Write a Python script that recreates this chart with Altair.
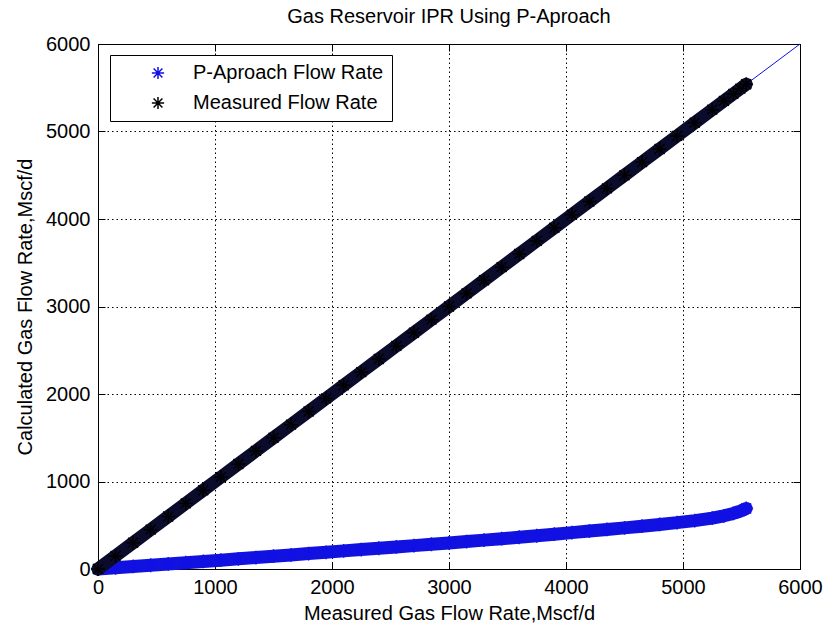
import altair as alt
import pandas as pd

# ---------------- data ----------------
axis_ticks = [0, 1000, 2000, 3000, 4000, 5000, 6000]

q_measured = [0, 150, 300, 450, 600, 750, 900, 1050, 1200, 1350, 1500, 1650,
              1800, 1950, 2100, 2250, 2400, 2550, 2700, 2850, 3000, 3150, 3300,
              3450, 3600, 3750, 3900, 4050, 4200, 4350, 4500, 4650, 4800, 4950,
              5100, 5250, 5350, 5430, 5490, 5540]

q_p_approach = [0, 14, 29, 43, 58, 72, 86, 101, 116, 131, 146, 161,
                176, 191, 207, 222, 237, 252, 267, 283, 298, 314, 330,
                346, 363, 380, 398, 416, 434, 452, 470, 489, 509, 530,
                553, 582, 608, 635, 662, 692]

diag_x = [0, 6000]
diag_y = [0, 6000]

series_names = ["P-Aproach Flow Rate", "Measured Flow Rate"]
series_colors = ["#1010e6", "#000000"]

FONT = "Liberation Sans"
ASTERISK = "M-1,0L1,0M0,-1L0,1M-0.72,-0.72L0.72,0.72M-0.72,0.72L0.72,-0.72"

df_diag = pd.DataFrame({"x": diag_x, "y": diag_y})
df_p = pd.DataFrame({"x": q_measured, "y": q_p_approach, "series": series_names[0]})
df_m = pd.DataFrame({"x": q_measured, "y": q_measured, "series": series_names[1]})

xs = alt.Scale(domain=[0, 6000], nice=False, zero=False)
ys = alt.Scale(domain=[0, 6000], nice=False, zero=False)
cscale = alt.Scale(domain=series_names, range=series_colors)

# main axes (labels, titles, grid)
main_x = alt.Axis(values=axis_ticks, format="d", orient="bottom", ticks=False, domain=False,
                  grid=True, gridDash=[1.5, 3], gridColor="black", gridOpacity=1, gridWidth=1,
                  labelFont=FONT, labelFontSize=20, labelColor="black", labelPadding=8,
                  labelFlush=False, labelOverlap=False,
                  title="Measured Gas Flow Rate,Mscf/d", titleFont=FONT, titleFontSize=20,
                  titleFontWeight="normal", titleColor="black", titlePadding=6)
main_y = alt.Axis(values=axis_ticks, format="d", orient="left", ticks=False, domain=False,
                  grid=True, gridDash=[1.5, 3], gridColor="black", gridOpacity=1, gridWidth=1,
                  labelFont=FONT, labelFontSize=20, labelColor="black", labelPadding=8,
                  labelFlush=False, labelOverlap=False,
                  title="Calculated Gas Flow Rate,Mscf/d", titleFont=FONT, titleFontSize=20,
                  titleFontWeight="normal", titleColor="black", titlePadding=10)


def tick_axis(orient):
    return alt.Axis(values=axis_ticks, orient=orient, offset=-7, tickSize=7, ticks=True,
                    tickColor="black", tickWidth=1, labels=False, domain=False, grid=False,
                    title=None)


diag = alt.Chart(df_diag).mark_line(color="#1010e6", strokeWidth=1).encode(
    x=alt.X("x:Q", scale=xs, axis=main_x),
    y=alt.Y("y:Q", scale=ys, axis=main_y),
)

band_p = alt.Chart(df_p).mark_line(color="#1212e0", strokeWidth=13, strokeJoin="round",
                                   strokeCap="round").encode(
    x=alt.X("x:Q", scale=xs, axis=tick_axis("bottom")),
    y=alt.Y("y:Q", scale=ys, axis=tick_axis("left")),
)

pts_p = alt.Chart(df_p).mark_point(shape=ASTERISK, size=190, strokeWidth=1.5, filled=False,
                                   opacity=1).encode(
    x=alt.X("x:Q", scale=xs, axis=None),
    y=alt.Y("y:Q", scale=ys, axis=None),
    color=alt.Color("series:N", scale=cscale, title=None),
)

band_m = alt.Chart(df_m).mark_line(color="#0b0b2c", strokeWidth=13, strokeJoin="round",
                                   strokeCap="round").encode(
    x=alt.X("x:Q", scale=xs, axis=tick_axis("top")),
    y=alt.Y("y:Q", scale=ys, axis=tick_axis("right")),
)

pts_m = alt.Chart(df_m).mark_point(shape=ASTERISK, size=190, strokeWidth=1.5, filled=False,
                                   opacity=1).encode(
    x=alt.X("x:Q", scale=xs, axis=None),
    y=alt.Y("y:Q", scale=ys, axis=None),
    color=alt.Color("series:N", scale=cscale, title=None),
)

chart = alt.layer(diag, band_p, pts_p, band_m, pts_m).resolve_axis(
    x="independent", y="independent"
).properties(
    width=702,
    height=525,
    padding={"left": 98, "top": 44, "right": 24, "bottom": 56},
    autosize=alt.AutoSizeParams(type="none"),
    background="white",
    title=alt.TitleParams("Gas Reservoir IPR Using P-Aproach", font=FONT, fontSize=20,
                          fontWeight="normal", color="black", anchor="middle",
                          frame="group", baseline="bottom", offset=-13),
).configure_view(
    stroke="black", strokeWidth=1
).configure_legend(
    orient="none", legendX=12, legendY=11, fillColor="white", strokeColor="black",
    padding=8, cornerRadius=0, symbolType=ASTERISK, symbolSize=150,
    symbolStrokeWidth=1.5, symbolOffset=30, labelOffset=25, labelFont=FONT,
    labelFontSize=20, labelColor="black", rowPadding=10, labelLimit=400,
)

chart.save("out.html", embed_options={"renderer": "svg", "actions": False})
